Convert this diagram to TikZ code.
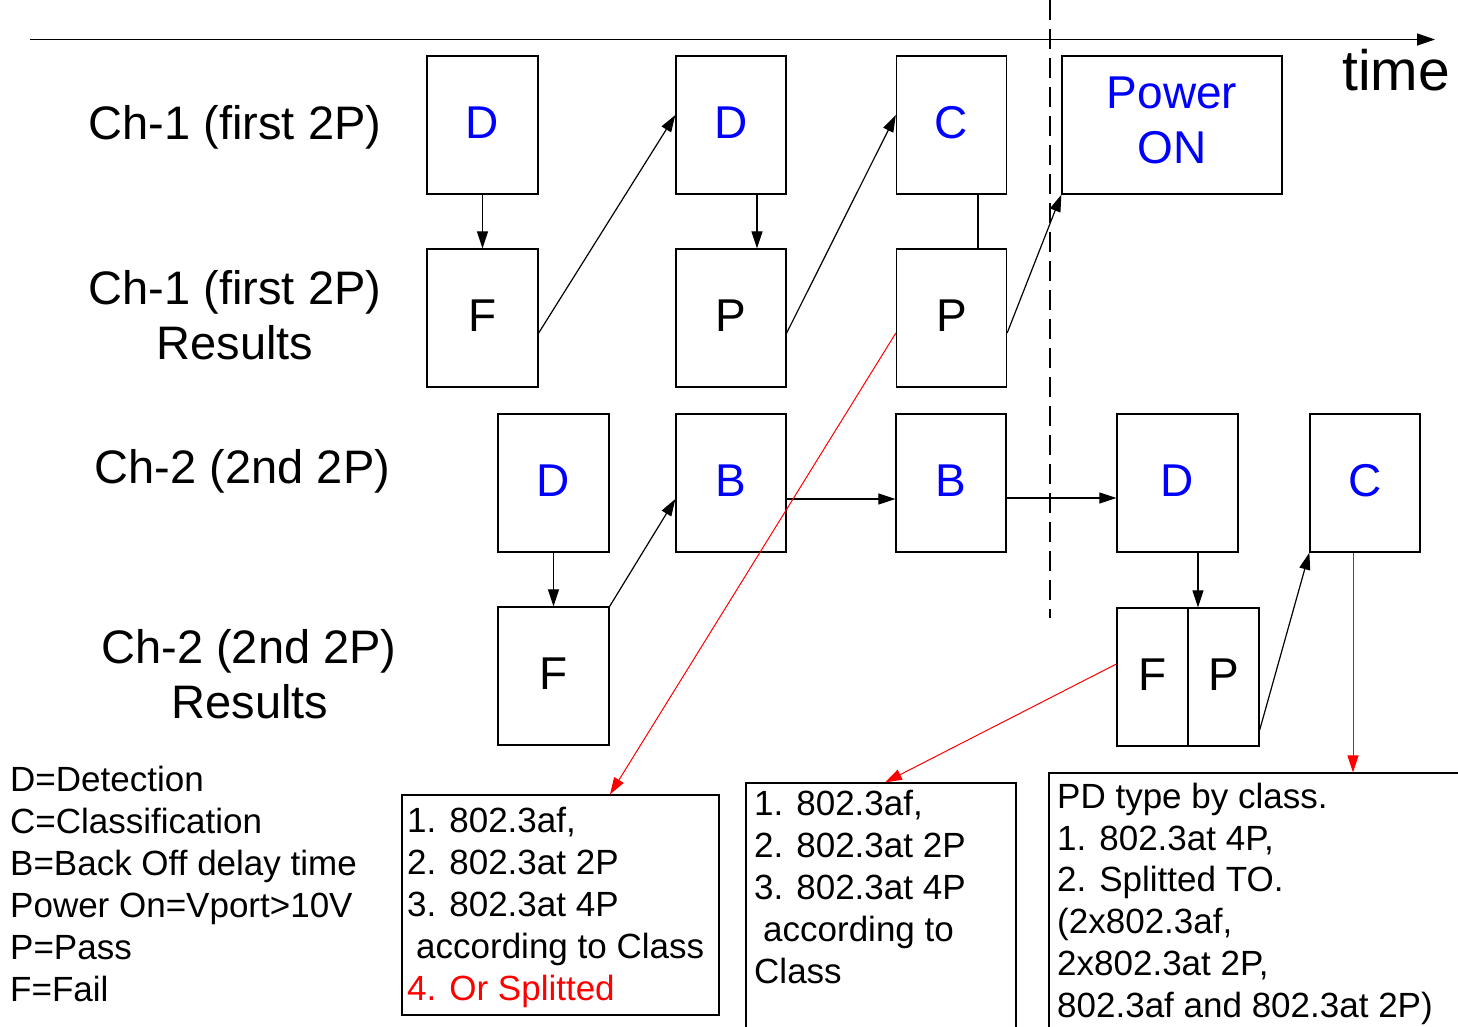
\documentclass[tikz,border=0pt]{standalone}
\usepackage{fontspec}
\setmainfont{Liberation Sans}
\usetikzlibrary{arrows.meta,calc}
\begin{document}
\begin{tikzpicture}[x=1pt,y=-1pt,
  stagebox/.style={draw=black,line width=1.3pt,inner sep=0pt,minimum height=138pt,
    font=\fontsize{46}{46}\selectfont,text height=33pt,text depth=6pt},
  phase/.style={stagebox,text=blue},
  result/.style={stagebox,text=black},
  rowlabel/.style={font=\fontsize{47}{55}\selectfont,anchor=base,inner sep=0pt},
  notebox/.style={draw=black,line width=1.2pt,inner sep=0pt},
  notetext/.style={font=\fontsize{35}{42}\selectfont,align=left,anchor=north west,inner sep=0pt},
  arr/.style={-{Triangle[length=17pt,width=11pt]},line width=1.2pt},
  plain/.style={line width=1.2pt},
  redarr/.style={arr,draw=red,line width=1pt}
]
\useasboundingbox (0,0) rectangle (1458,1026);

% time axis and the power-on boundary
\coordinate (t0) at (30,39.5);
\coordinate (t1) at (1435,39.5);
\draw[-{Triangle[length=18pt,width=12pt]},line width=1.3pt] (t0) -- (t1);
\node[anchor=base west,inner sep=0pt,font=\fontsize{57}{57}\selectfont] (timelbl) at (1342,90) {time};
\coordinate (dtop) at (1050,0);
\coordinate (dbot) at (1050,618);
\draw[line width=1.3pt,dash pattern=on 20pt off 9pt] (dtop) -- (dbot);

% row labels
\node[rowlabel] (lab1) at (235,139) {Ch-1 (first 2P)};
\node[rowlabel] (lab2a) at (235,304) {Ch-1 (first 2P)};
\node[rowlabel] (lab2b) at (235,359) {Results};
\node[rowlabel] (lab3) at (242.5,483) {Ch-2 (2nd 2P)};
\node[rowlabel] (lab4a) at (249,663) {Ch-2 (2nd 2P)};
\node[rowlabel] (lab4b) at (250,718) {Results};

% channel 1
\node[phase,minimum width=111pt] (d1) at (482.5,125) {D};
\node[phase,minimum width=110pt] (d2) at (731,125) {D};
\node[phase,minimum width=110pt] (c1) at (951.5,125) {C};
\node[stagebox,minimum width=220pt] (pon) at (1172,125) {};
\node[font=\fontsize{46}{55}\selectfont,text=blue,align=center,anchor=north,inner sep=0pt] (pontxt) at (1172,77) {Power\\ON};
\node[result,minimum width=111pt] (f1) at (482.5,318) {F};
\node[result,minimum width=110pt] (p1) at (731,318) {P};
\node[result,minimum width=110pt] (p2) at (951.5,318) {P};

% channel 2
\node[phase,minimum width=111pt] (d3) at (553.5,483) {D};
\node[phase,minimum width=110pt] (b1) at (731,483) {B};
\node[phase,minimum width=110pt] (b2) at (951,483) {B};
\node[phase,minimum width=121pt] (d4) at (1177.5,483) {D};
\node[phase,minimum width=110pt] (c2) at (1365,483) {C};
\node[result,minimum width=111pt] (f2) at (553.5,676) {F};
\node[result,minimum width=71pt] (fpf) at (1152.5,677) {F};
\node[result,minimum width=71pt] (fpp) at (1223.5,677) {P};

% sequence connectors
\draw[arr] (d1.south) -- (f1.north);
\draw[arr] ([yshift=-15pt]f1.east) -- ([yshift=10pt]d2.west);
\draw[arr] ([xshift=26pt]d2.south) -- ([xshift=26pt]p1.north);
\draw[arr] ([yshift=-15pt]p1.east) -- ([yshift=10pt]c1.west);
\draw[plain] ([xshift=26.5pt]c1.south) -- ([xshift=26.5pt]p2.north);
\draw[arr] ([yshift=-15pt]p2.east) -- (pon.south west);
\draw[arr] (d3.south) -- (f2.north);
\draw[arr] (f2.north east) -- ([yshift=-16pt]b1.west);
\draw[arr] ([yshift=-16pt]b1.east) -- ([yshift=-16pt]b2.west);
\draw[arr] ([yshift=-15pt]b2.east) -- ([yshift=-15pt]d4.west);
\coordinate (d4o) at ([xshift=20.5pt]d4.south);
\draw[arr] (d4o) -- (d4o |- fpp.north);
\draw[arr] ([yshift=-53pt]fpp.east) -- (c2.south west);

% result notes
\node[notebox,minimum width=317pt,minimum height=220pt] (n1) at (560.5,905) {};
\node[notebox,minimum width=270pt,minimum height=270pt] (n2) at (881,918) {};
\node[notebox,minimum width=430pt,minimum height=280pt] (n3) at (1264,913) {};
\node[notetext] (n1txt) at (407,807) {1. 802.3af,\\2. 802.3at 2P\\3. 802.3at 4P\\\hspace*{9pt}according to Class\\\textcolor{red}{4. Or Splitted}};
\node[notetext] (n2txt) at (754,790) {1. 802.3af,\\2. 802.3at 2P\\3. 802.3at 4P\\\hspace*{9pt}according to\\Class};
\node[notetext,font=\fontsize{35}{41.7}\selectfont] (n3txt) at (1057,783) {PD type by class.\\1. 802.3at 4P,\\2. Splitted TO.\\(2x802.3af,\\2x802.3at 2P,\\802.3af and 802.3at 2P)};

% red result pointers
\draw[redarr] ([yshift=-15pt]p2.west) -- ([xshift=49.5pt]n1.north);
\draw[redarr] ([yshift=13pt]fpf.west) -- ([xshift=4pt]n2.north);
\coordinate (c2o) at ([xshift=-12pt]c2.south);
\draw[redarr] (c2o) -- (c2o |- n3.north);

% legend
\node[notetext] (legend) at (10,766) {D=Detection\\C=Classification\\B=Back Off delay time\\Power On=Vport>10V\\P=Pass\\F=Fail};
\end{tikzpicture}
\end{document}
